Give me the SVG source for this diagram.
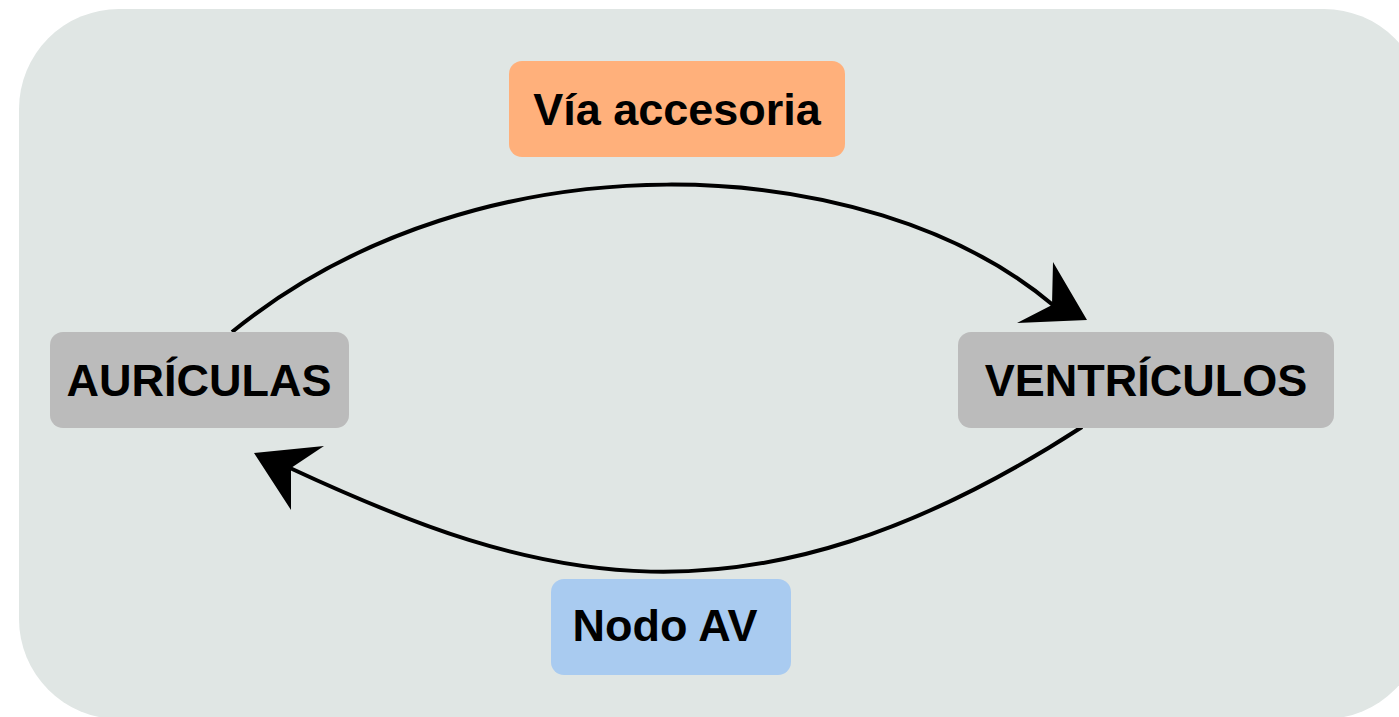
<svg xmlns="http://www.w3.org/2000/svg" width="1399" height="717" viewBox="0 0 1399 717">
  <style>
    .box { stroke: none; }
    .label { font-family: "Liberation Sans", Arial, sans-serif; font-weight: bold; font-size: 45px; fill: #000; text-anchor: middle; }
    .wire { fill: none; stroke: #000; stroke-width: 4; }
    .head { fill: #000; stroke: none; }
  </style>
  <rect width="1399" height="717" fill="#ffffff"/>
  <!-- panel -->
  <rect x="19" y="9" width="1405" height="710" rx="100" ry="100" fill="#e0e6e4"/>

  <g id="connectors">
    <path class="wire" d="M 232 332 C 480 130, 870 150, 1053 305"/>
    <polygon class="head" points="1087,320 1053,262 1052,305 1017,323"/>
    <path class="wire" d="M 1082 427 C 745 645, 533 581, 290 468"/>
    <polygon class="head" points="254,453 324,446 291,468 291,510"/>
  </g>

  <g id="via-accesoria">
    <rect class="box" x="509" y="61" width="336" height="96" rx="13" fill="#ffb07b"/>
    <text class="label" x="677" y="125">Vía accesoria</text>
  </g>
  <g id="auriculas">
    <rect class="box" x="50" y="332" width="299" height="96" rx="13" fill="#bbbbbb"/>
    <text class="label" x="199" y="396">AURÍCULAS</text>
  </g>
  <g id="ventriculos">
    <rect class="box" x="958" y="332" width="376" height="96" rx="13" fill="#bbbbbb"/>
    <text class="label" x="1146" y="396">VENTRÍCULOS</text>
  </g>
  <g id="nodo-av">
    <rect class="box" x="551" y="579" width="240" height="96" rx="13" fill="#a9cbf0"/>
    <text class="label" x="665" y="641">Nodo AV</text>
  </g>
</svg>
